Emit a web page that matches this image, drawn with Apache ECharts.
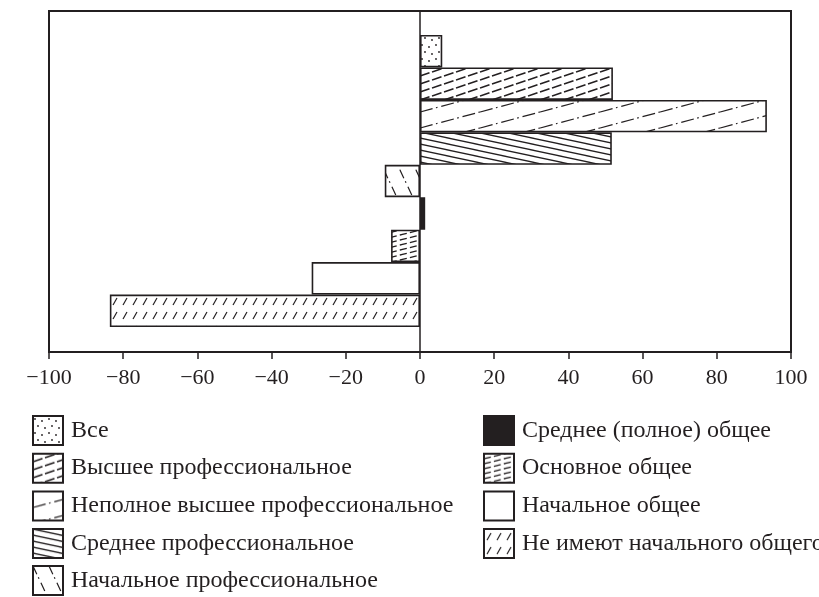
<!DOCTYPE html>
<html>
<head>
<meta charset="utf-8">
<script src="https://cdn.jsdelivr.net/npm/echarts@6/dist/echarts.min.js"></script>
<style>
html,body{margin:0;padding:0;background:#fff;}
#chart{width:819px;height:597px;}
</style>
</head>
<body>
<div id="chart"></div>
<script>
// ---- data ----
var categories = [
  'Все',
  'Высшее профессиональное',
  'Неполное высшее профессиональное',
  'Среднее профессиональное',
  'Начальное профессиональное',
  'Среднее (полное) общее',
  'Основное общее',
  'Начальное общее',
  'Не имеют начального общего'
];
var values = [6, 52, 93.5, 51.7, -9.5, 1.4, -7.8, -29.2, -83.6];
var xTicks = [-100, -80, -60, -40, -20, 0, 20, 40, 60, 80, 100];

var INK = '#231f20';

// ---- hatch patterns ----
function makePattern(W, H, draw) {
  var c = document.createElement('canvas');
  c.width = W; c.height = H;
  var ctx = c.getContext('2d');
  ctx.fillStyle = '#fff';
  ctx.fillRect(0, 0, W, H);
  ctx.strokeStyle = INK;
  ctx.fillStyle = INK;
  for (var i = -1; i <= 1; i++) {
    for (var j = -1; j <= 1; j++) {
      ctx.save();
      ctx.translate(i * W, j * H);
      draw(ctx, W, H);
      ctx.restore();
    }
  }
  return { image: c, repeat: 'repeat' };
}
function line(ctx, x1, y1, x2, y2, lw, dash) {
  ctx.beginPath();
  ctx.lineWidth = lw;
  ctx.setLineDash(dash || []);
  ctx.moveTo(x1, y1); ctx.lineTo(x2, y2);
  ctx.stroke();
}
var patterns = [
  // Все: dots
  makePattern(14, 14, function (ctx) {
    [[2, 3], [9, 5], [5, 10], [12, 12]].forEach(function (p) {
      ctx.beginPath(); ctx.arc(p[0], p[1], 0.9, 0, Math.PI * 2); ctx.fill();
    });
  }),
  // Высшее: dashed shallow rising
  makePattern(24, 8, function (ctx, W, H) {
    line(ctx, 0, H, W, 0, 1.6, [10, 2.65]);
  }),
  // Неполное высшее: dash-dot shallow rising
  makePattern(60, 16, function (ctx, W, H) {
    line(ctx, 0, H, W, 0, 1.2, [13, 3.5, 1.6, 3.9]);
  }),
  // Среднее проф.: solid falling
  makePattern(28, 6, function (ctx, W, H) {
    line(ctx, 0, 0, W, H, 1.3);
  }),
  // Начальное проф.: steep falling dash-dot
  makePattern(16, 34, function (ctx, W, H) {
    line(ctx, 0, 0, W, H, 1.2, [9, 3.5, 1.6, 4.5]);
  }),
  // Среднее (полное): solid
  INK,
  // Основное: dense dashed shallow rising
  makePattern(20, 5, function (ctx, W, H) {
    line(ctx, 0, H, W, 0, 1.3, [7, 3.2]);
  }),
  // Начальное общее: blank
  '#ffffff',
  // Не имеют: short steep dashes
  makePattern(10, 14, function (ctx) {
    line(ctx, 3, 11, 7, 4, 1.2);
  })
];

// ---- series ----
var series = categories.map(function (name, i) {
  return {
    name: name,
    type: 'bar',
    xAxisIndex: 0,
    yAxisIndex: 0,
    barGap: '-100%',
    barCategoryGap: 0,
    barWidth: '100%',
    itemStyle: { color: patterns[i], borderColor: INK, borderWidth: 1.6 },
    data: categories.map(function (c, j) { return j === i ? values[i] : '-'; }),
    z: 3
  };
});

var legendText = { fontFamily: 'Liberation Serif', fontSize: 24, color: INK, padding: [0, 0, 0, 3] };
function legendBlock(names, left, top) {
  return {
    data: names, orient: 'vertical', left: left, top: top,
    itemWidth: 30, itemHeight: 29, itemGap: 6.7, icon: 'rect',
    selectedMode: false, textStyle: legendText, padding: 0
  };
}

var option = {
  animation: false,
  backgroundColor: '#fff',
  grid: [
    { left: 49, right: 28, top: 35, bottom: 270 },
    { left: 49, right: 28, top: 11, bottom: 245, show: true, borderColor: INK, borderWidth: 2, backgroundColor: 'transparent' }
  ],
  xAxis: [
    { gridIndex: 0, type: 'value', min: -100, max: 100, show: false },
    {
      gridIndex: 1, type: 'value', min: -100, max: 100, interval: 20,
      axisLine: { show: true, onZero: false, lineStyle: { color: INK, width: 2 } },
      axisTick: { show: true, inside: false, length: 7, lineStyle: { color: INK, width: 1.5 } },
      splitLine: { show: false },
      axisLabel: {
        margin: 15,
        fontFamily: 'Liberation Serif', fontSize: 22, color: INK,
        formatter: function (v) { return v < 0 ? '\u2212' + (-v) : String(v); }
      }
    }
  ],
  yAxis: [
    { gridIndex: 0, type: 'category', data: categories, inverse: true, show: false },
    {
      gridIndex: 1, type: 'value', min: 0, max: 1,
      axisLine: { show: true, onZero: true, lineStyle: { color: INK, width: 1.5 } },
      axisTick: { show: false }, axisLabel: { show: false }, splitLine: { show: false }
    }
  ],
  legend: [
    legendBlock(categories.slice(0, 4), 32, 415),
    legendBlock(categories.slice(4, 5), 32, 565),
    legendBlock(categories.slice(5), 483, 415)
  ],
  series: series
};

var chart = echarts.init(document.getElementById('chart'), null, { renderer: 'canvas' });
chart.setOption(option);
</script>
</body>
</html>
